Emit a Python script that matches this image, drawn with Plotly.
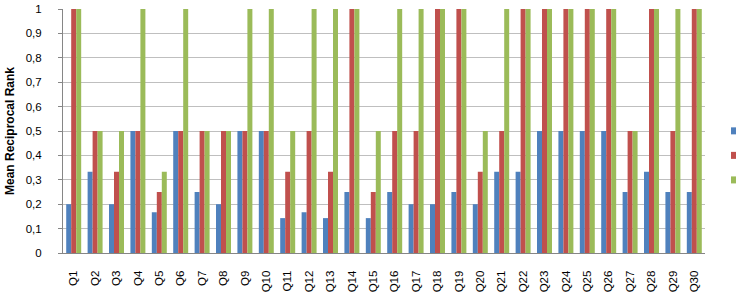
import plotly.graph_objects as go

categories = [f"Q{i}" for i in range(1, 31)]
series_a = [0.2, 0.333, 0.2, 0.5, 0.167, 0.5, 0.25, 0.2, 0.5, 0.5,
            0.143, 0.167, 0.143, 0.25, 0.143, 0.25, 0.2, 0.2, 0.25, 0.2,
            0.333, 0.333, 0.5, 0.5, 0.5, 0.5, 0.25, 0.333, 0.25, 0.25]
series_b = [1, 0.5, 0.333, 0.5, 0.25, 0.5, 0.5, 0.5, 0.5, 0.5,
            0.333, 0.5, 0.333, 1, 0.25, 0.5, 0.5, 1, 1, 0.333,
            0.5, 1, 1, 1, 1, 1, 0.5, 1, 0.5, 1]
series_c = [1, 0.5, 0.5, 1, 0.333, 1, 0.5, 0.5, 1, 1,
            0.5, 1, 1, 1, 0.5, 1, 1, 1, 1, 0.5,
            1, 1, 1, 1, 1, 1, 0.5, 1, 1, 1]
y_tick_vals = [0, 0.1, 0.2, 0.3, 0.4, 0.5, 0.6, 0.7, 0.8, 0.9, 1]
y_tick_text = ["0", "0,1", "0,2", "0,3", "0,4", "0,5", "0,6", "0,7", "0,8", "0,9", "1"]
colors = ["#4F81BD", "#C0504D", "#9BBB59"]

fig = go.Figure()
for vals, col in zip([series_a, series_b, series_c], colors):
    fig.add_trace(go.Bar(x=categories, y=vals, marker=dict(color=col, line=dict(width=0)),
                         showlegend=False))

# legend squares (text cut off at image edge)
shapes = []
for i, col in enumerate(colors):
    yc = 1 - (131 + i * 24.5 - 9.3) / (253 - 9.3)
    shapes.append(dict(type="rect", xref="paper", yref="paper",
                       x0=(731 - 63) / 642, x1=(738 - 63) / 642,
                       y0=yc - 3.5 / 243.7, y1=yc + 3.5 / 243.7,
                       fillcolor=col, line=dict(width=0)))

fig.update_layout(
    width=736, height=303,
    margin=dict(l=63, r=31, t=9, b=50),
    paper_bgcolor="white", plot_bgcolor="white",
    barmode="group", bargap=0.3, bargroupgap=0,
    font=dict(family="Liberation Sans", size=10, color="#000000"),
    shapes=shapes,
)
fig.update_xaxes(
    tickangle=-90, showline=True, linecolor="#868686", linewidth=1,
    ticks="", showgrid=False, tickfont=dict(size=11.5), ticklabelstandoff=12,
    automargin=False,
)
fig.update_yaxes(
    range=[0, 1], tickvals=y_tick_vals, ticktext=y_tick_text,
    showgrid=True, gridcolor="#BFBFBF", gridwidth=1,
    showline=True, linecolor="#868686", linewidth=1,
    ticks="outside", ticklen=4, tickcolor="#868686",
    tickfont=dict(size=11.5), ticklabelstandoff=14,
    title=dict(text="<b>Mean Reciprocal Rank</b>", font=dict(size=12), standoff=8),
    zeroline=False, automargin=False,
)
fig.write_html("out.html")
